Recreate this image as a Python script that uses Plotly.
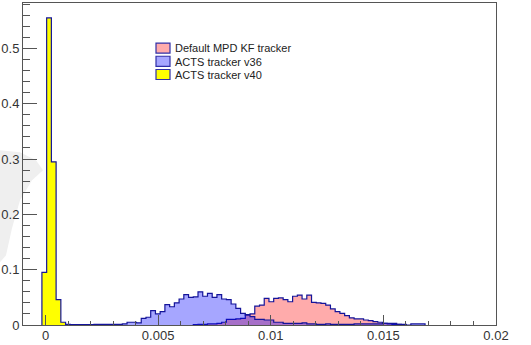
import numpy as np
import plotly.graph_objects as go

# histogram binning: 100 bins from -0.001 to 0.02
x_min, x_max, n_bins = -0.001, 0.02, 100

def series(d):
    v = [0.0] * n_bins
    for k, val in d.items():
        v[k] = val
    return v

# ---- data (fraction per bin), keyed by bin index ----
red_vals = series({36: 0.0005, 37: 0.001, 38: 0.001, 39: 0.002, 40: 0.002, 41: 0.003, 42: 0.005,
                   43: 0.010, 44: 0.010, 45: 0.011, 46: 0.012, 47: 0.019, 48: 0.020, 49: 0.034,
                   50: 0.036, 51: 0.048, 52: 0.042, 53: 0.048, 54: 0.049, 55: 0.046, 56: 0.042,
                   57: 0.052, 58: 0.054, 59: 0.047, 60: 0.054, 61: 0.041, 62: 0.040, 63: 0.039,
                   64: 0.036, 65: 0.029, 66: 0.024, 67: 0.021, 68: 0.017, 69: 0.013, 70: 0.011,
                   71: 0.011, 72: 0.009, 73: 0.008, 74: 0.006, 75: 0.005, 76: 0.003, 77: 0.002,
                   78: 0.001, 79: 0.001, 80: 0.0005})
blue_vals = series({8: 0.0005, 9: 0.0005, 10: 0.0005, 11: 0.0005, 12: 0.0005, 13: 0.0005,
                    14: 0.0005, 15: 0.001, 16: 0.001, 17: 0.001, 18: 0.001, 19: 0.001, 20: 0.001,
                    21: 0.002, 22: 0.005, 23: 0.005, 24: 0.004, 25: 0.012, 26: 0.014, 27: 0.026,
                    28: 0.020, 29: 0.024, 30: 0.037, 31: 0.033, 32: 0.040, 33: 0.047, 34: 0.055,
                    35: 0.050, 36: 0.051, 37: 0.060, 38: 0.052, 39: 0.057, 40: 0.050, 41: 0.055,
                    42: 0.047, 43: 0.046, 44: 0.038, 45: 0.030, 46: 0.021, 47: 0.018, 48: 0.015,
                    49: 0.010, 50: 0.010, 51: 0.009, 52: 0.009, 53: 0.005, 54: 0.005, 55: 0.003,
                    56: 0.003, 57: 0.003, 58: 0.003, 59: 0.004, 60: 0.002, 61: 0.002, 62: 0.001,
                    63: 0.001, 64: 0.002, 65: 0.001, 66: 0.001, 67: 0.001, 68: 0.001, 69: 0.001,
                    70: 0.002, 71: 0.002, 72: 0.002, 73: 0.002, 74: 0.002, 75: 0.002, 76: 0.003,
                    77: 0.003, 78: 0.003, 79: 0.001, 80: 0.001, 82: 0.002, 83: 0.002, 84: 0.002})
yellow_vals = series({4: 0.095, 5: 0.555, 6: 0.295, 7: 0.046, 8: 0.005, 9: 0.001})

names = ["Default MPD KF tracker", "ACTS tracker v36", "ACTS tracker v40"]
fills = ["rgba(255,0,0,0.33)", "rgba(0,0,255,0.35)", "rgba(255,255,0,1)"]
line_col = "#14149a"

x_ticks = [0, 0.005, 0.01, 0.015, 0.02]
x_tick_text = ["0", "0.005", "0.01", "0.015", "0.02"]
y_ticks = [0, 0.1, 0.2, 0.3, 0.4, 0.5]
y_tick_text = ["0", "0.1", "0.2", "0.3", "0.4", "0.5"]

edges = np.linspace(x_min, x_max, n_bins + 1)

fig = go.Figure()
for vals, name, fc in zip([red_vals, blue_vals, yellow_vals], names, fills):
    nz = [i for i, v in enumerate(vals) if v > 0]
    s, e = nz[0], nz[-1] + 1
    xs = [edges[s]] + list(edges[s:e + 1])
    ys = [0] + vals[s:e] + [0]
    fig.add_trace(go.Scatter(x=xs, y=ys, mode="lines", line=dict(shape="hv", color=line_col, width=1.2),
                             fill="tozeroy", fillcolor=fc, name=name, showlegend=False,
                             hoverinfo="skip"))

# plot area in pixels
L, R, T, B = 23, 496, 3, 324.6
W, H = 531, 345
def px(x): return (x - L) / (R - L)
def py(y): return (B - y) / (B - T)

shapes = []
# faint grey watermark at left
pts = [(0, 150), (20, 152), (36, 160), (43, 170), (32, 180), (20, 200), (12, 228), (6, 255), (0, 262)]
path = "M " + " L ".join(f"{px(a):.4f},{py(b):.4f}" for a, b in pts) + " Z"
shapes.append(dict(type="path", xref="paper", yref="paper", path=path,
                   fillcolor="#efefef", line=dict(width=0), layer="below"))

annotations = []
leg_x0, leg_y0, row_h = 156, 43, 13.2
for i, (name, fc) in enumerate(zip(names, fills)):
    y0 = leg_y0 + i * row_h
    shapes.append(dict(type="rect", xref="paper", yref="paper",
                       x0=px(leg_x0), x1=px(leg_x0 + 14), y0=py(y0), y1=py(y0 + 10),
                       fillcolor=fc, line=dict(color="#3030a8", width=1.2), layer="above"))
    annotations.append(dict(xref="paper", yref="paper", x=px(leg_x0 + 17), y=py(y0 + 5.3),
                            text=name, showarrow=False, xanchor="left", yanchor="middle",
                            font=dict(family="Liberation Sans, Arial", size=11, color="#222")))

axis_col = "#555555"
fig.update_layout(
    width=W, height=H,
    margin=dict(l=L, r=W - R, t=T, b=H - B, autoexpand=False),
    paper_bgcolor="white", plot_bgcolor="rgba(0,0,0,0)",
    shapes=shapes, annotations=annotations,
    showlegend=False,
    font=dict(family="Liberation Sans, Arial", size=12, color="#333"),
)
fig.update_xaxes(range=[x_min, x_max], showgrid=False, zeroline=False, automargin=False,
                 showline=True, linecolor=axis_col, linewidth=1, mirror=True,
                 ticks="inside", ticklen=10, tickcolor=axis_col, tickwidth=1,
                 tickvals=x_ticks, ticktext=x_tick_text, ticklabelstandoff=-2,
                 minor=dict(ticks="inside", ticklen=4, dtick=0.001, tick0=0, tickcolor=axis_col, showgrid=False),
                 tickfont=dict(size=13, color="#333"))
fig.update_yaxes(range=[0, 0.582], showgrid=False, zeroline=False, automargin=False,
                 showline=True, linecolor=axis_col, linewidth=1, mirror=True,
                 ticks="inside", ticklen=14, tickcolor=axis_col, tickwidth=1,
                 tickvals=y_ticks, ticktext=y_tick_text,
                 minor=dict(ticks="inside", ticklen=7, dtick=0.02, tick0=0, tickcolor=axis_col, showgrid=False),
                 tickfont=dict(size=13, color="#333"))

fig.write_html("out.html", config={"displayModeBar": False},
               post_script="document.body.style.margin='0px';document.body.style.padding='0px';")
